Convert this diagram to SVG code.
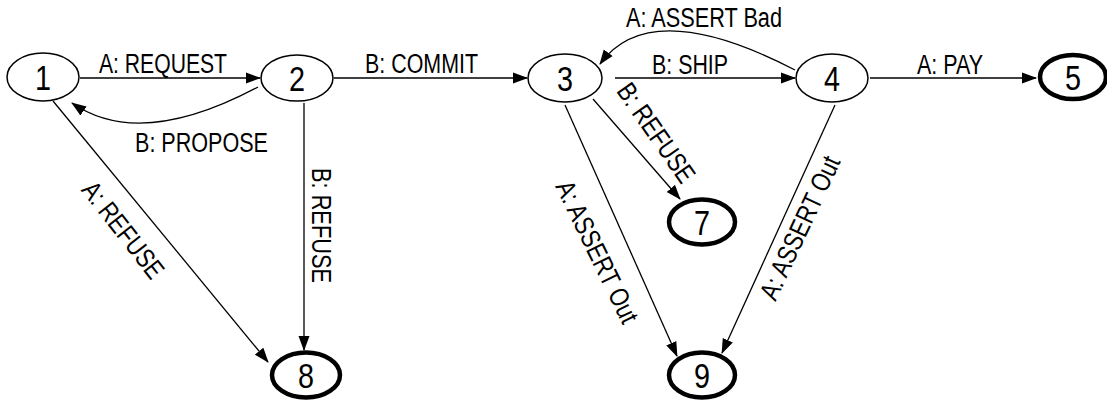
<svg xmlns="http://www.w3.org/2000/svg" width="1107" height="405" viewBox="0 0 1107 405">
  <style>
    .state { fill: #fff; stroke: #000; stroke-width: 1.5; }
    .final { fill: #fff; stroke: #000; stroke-width: 4.5; }
    .num { font-family: "Liberation Sans Narrow", "Liberation Sans", Arial, sans-serif; font-size: 35px; text-anchor: middle; fill: #000; }
    .lbl { font-family: "Liberation Sans Narrow", "Liberation Sans", Arial, sans-serif; font-size: 27px; fill: #000; }
    .mid { text-anchor: middle; }
    .edge { fill: none; stroke: #000; stroke-width: 1.3; marker-end: url(#arrow); }
  </style>
  <defs>
    <marker id="arrow" markerUnits="userSpaceOnUse" markerWidth="16" markerHeight="12" refX="14" refY="6" orient="auto">
      <path d="M0,0.5 L15,6 L0,11.5 z" fill="#000"/>
    </marker>
  </defs>
  <rect width="1107" height="405" fill="#fff"/>

  <!-- transitions -->
  <g id="connectors">
    <path class="edge" d="M80,78 L260,78"/>
    <path class="edge" d="M258,87 Q140,150 72,103"/>
    <path class="edge" d="M334,78 L527,78"/>
    <path class="edge" d="M615,78 L795,78"/>
    <path class="edge" d="M795,70 Q650,-5 600,64"/>
    <path class="edge" d="M870,78 L1036,78"/>
    <path class="edge" d="M53,101 L268,362"/>
    <path class="edge" d="M304,103 L304,350"/>
    <path class="edge" d="M593,99 L680,199"/>
    <path class="edge" d="M565,105 L677,356"/>
    <path class="edge" d="M835,105 L722,353"/>

    <text class="lbl" x="99" y="73" textLength="128" lengthAdjust="spacingAndGlyphs">A: REQUEST</text>
    <text class="lbl" x="135" y="152" textLength="133" lengthAdjust="spacingAndGlyphs">B: PROPOSE</text>
    <text class="lbl" x="365" y="73" textLength="113" lengthAdjust="spacingAndGlyphs">B: COMMIT</text>
    <text class="lbl" x="652" y="74" textLength="76" lengthAdjust="spacingAndGlyphs">B: SHIP</text>
    <text class="lbl" x="626" y="27" textLength="156" lengthAdjust="spacingAndGlyphs">A: ASSERT Bad</text>
    <text class="lbl" x="917" y="74" textLength="66" lengthAdjust="spacingAndGlyphs">A: PAY</text>
    <text class="lbl mid" transform="translate(123,230) rotate(52)" x="0" y="9" textLength="115" lengthAdjust="spacingAndGlyphs">A: REFUSE</text>
    <text class="lbl mid" transform="translate(320.5,225.5) rotate(90)" x="0" y="9" textLength="115" lengthAdjust="spacingAndGlyphs">B: REFUSE</text>
    <text class="lbl mid" transform="translate(656,133) rotate(55)" x="0" y="9" textLength="115" lengthAdjust="spacingAndGlyphs">B: REFUSE</text>
    <text class="lbl mid" transform="translate(597,252) rotate(64)" x="0" y="9" textLength="155" lengthAdjust="spacingAndGlyphs">A: ASSERT Out</text>
    <text class="lbl mid" transform="translate(800,228) rotate(-65)" x="0" y="9" textLength="155" lengthAdjust="spacingAndGlyphs">A: ASSERT Out</text>
  </g>

  <!-- states -->
  <g id="s1"><ellipse class="state" cx="43" cy="77" rx="36" ry="24"/><text class="num" x="43" y="90" textLength="16" lengthAdjust="spacingAndGlyphs">1</text></g>
  <g id="s2"><ellipse class="state" cx="297" cy="78" rx="36" ry="23"/><text class="num" x="297" y="91" textLength="16" lengthAdjust="spacingAndGlyphs">2</text></g>
  <g id="s3"><ellipse class="state" cx="565" cy="78" rx="37" ry="24"/><text class="num" x="565" y="91" textLength="16" lengthAdjust="spacingAndGlyphs">3</text></g>
  <g id="s4"><ellipse class="state" cx="832" cy="78" rx="36" ry="24"/><text class="num" x="832" y="91" textLength="16" lengthAdjust="spacingAndGlyphs">4</text></g>
  <g id="s5"><ellipse class="final" cx="1073" cy="77" rx="33" ry="22"/><text class="num" x="1073" y="90" textLength="16" lengthAdjust="spacingAndGlyphs">5</text></g>
  <g id="s7"><ellipse class="final" cx="702" cy="222" rx="33" ry="22.5"/><text class="num" x="702" y="235" textLength="16" lengthAdjust="spacingAndGlyphs">7</text></g>
  <g id="s8"><ellipse class="final" cx="306" cy="375" rx="34" ry="22.5"/><text class="num" x="306" y="388" textLength="16" lengthAdjust="spacingAndGlyphs">8</text></g>
  <g id="s9"><ellipse class="final" cx="702" cy="375" rx="33" ry="22.5"/><text class="num" x="702" y="388" textLength="16" lengthAdjust="spacingAndGlyphs">9</text></g>
</svg>
